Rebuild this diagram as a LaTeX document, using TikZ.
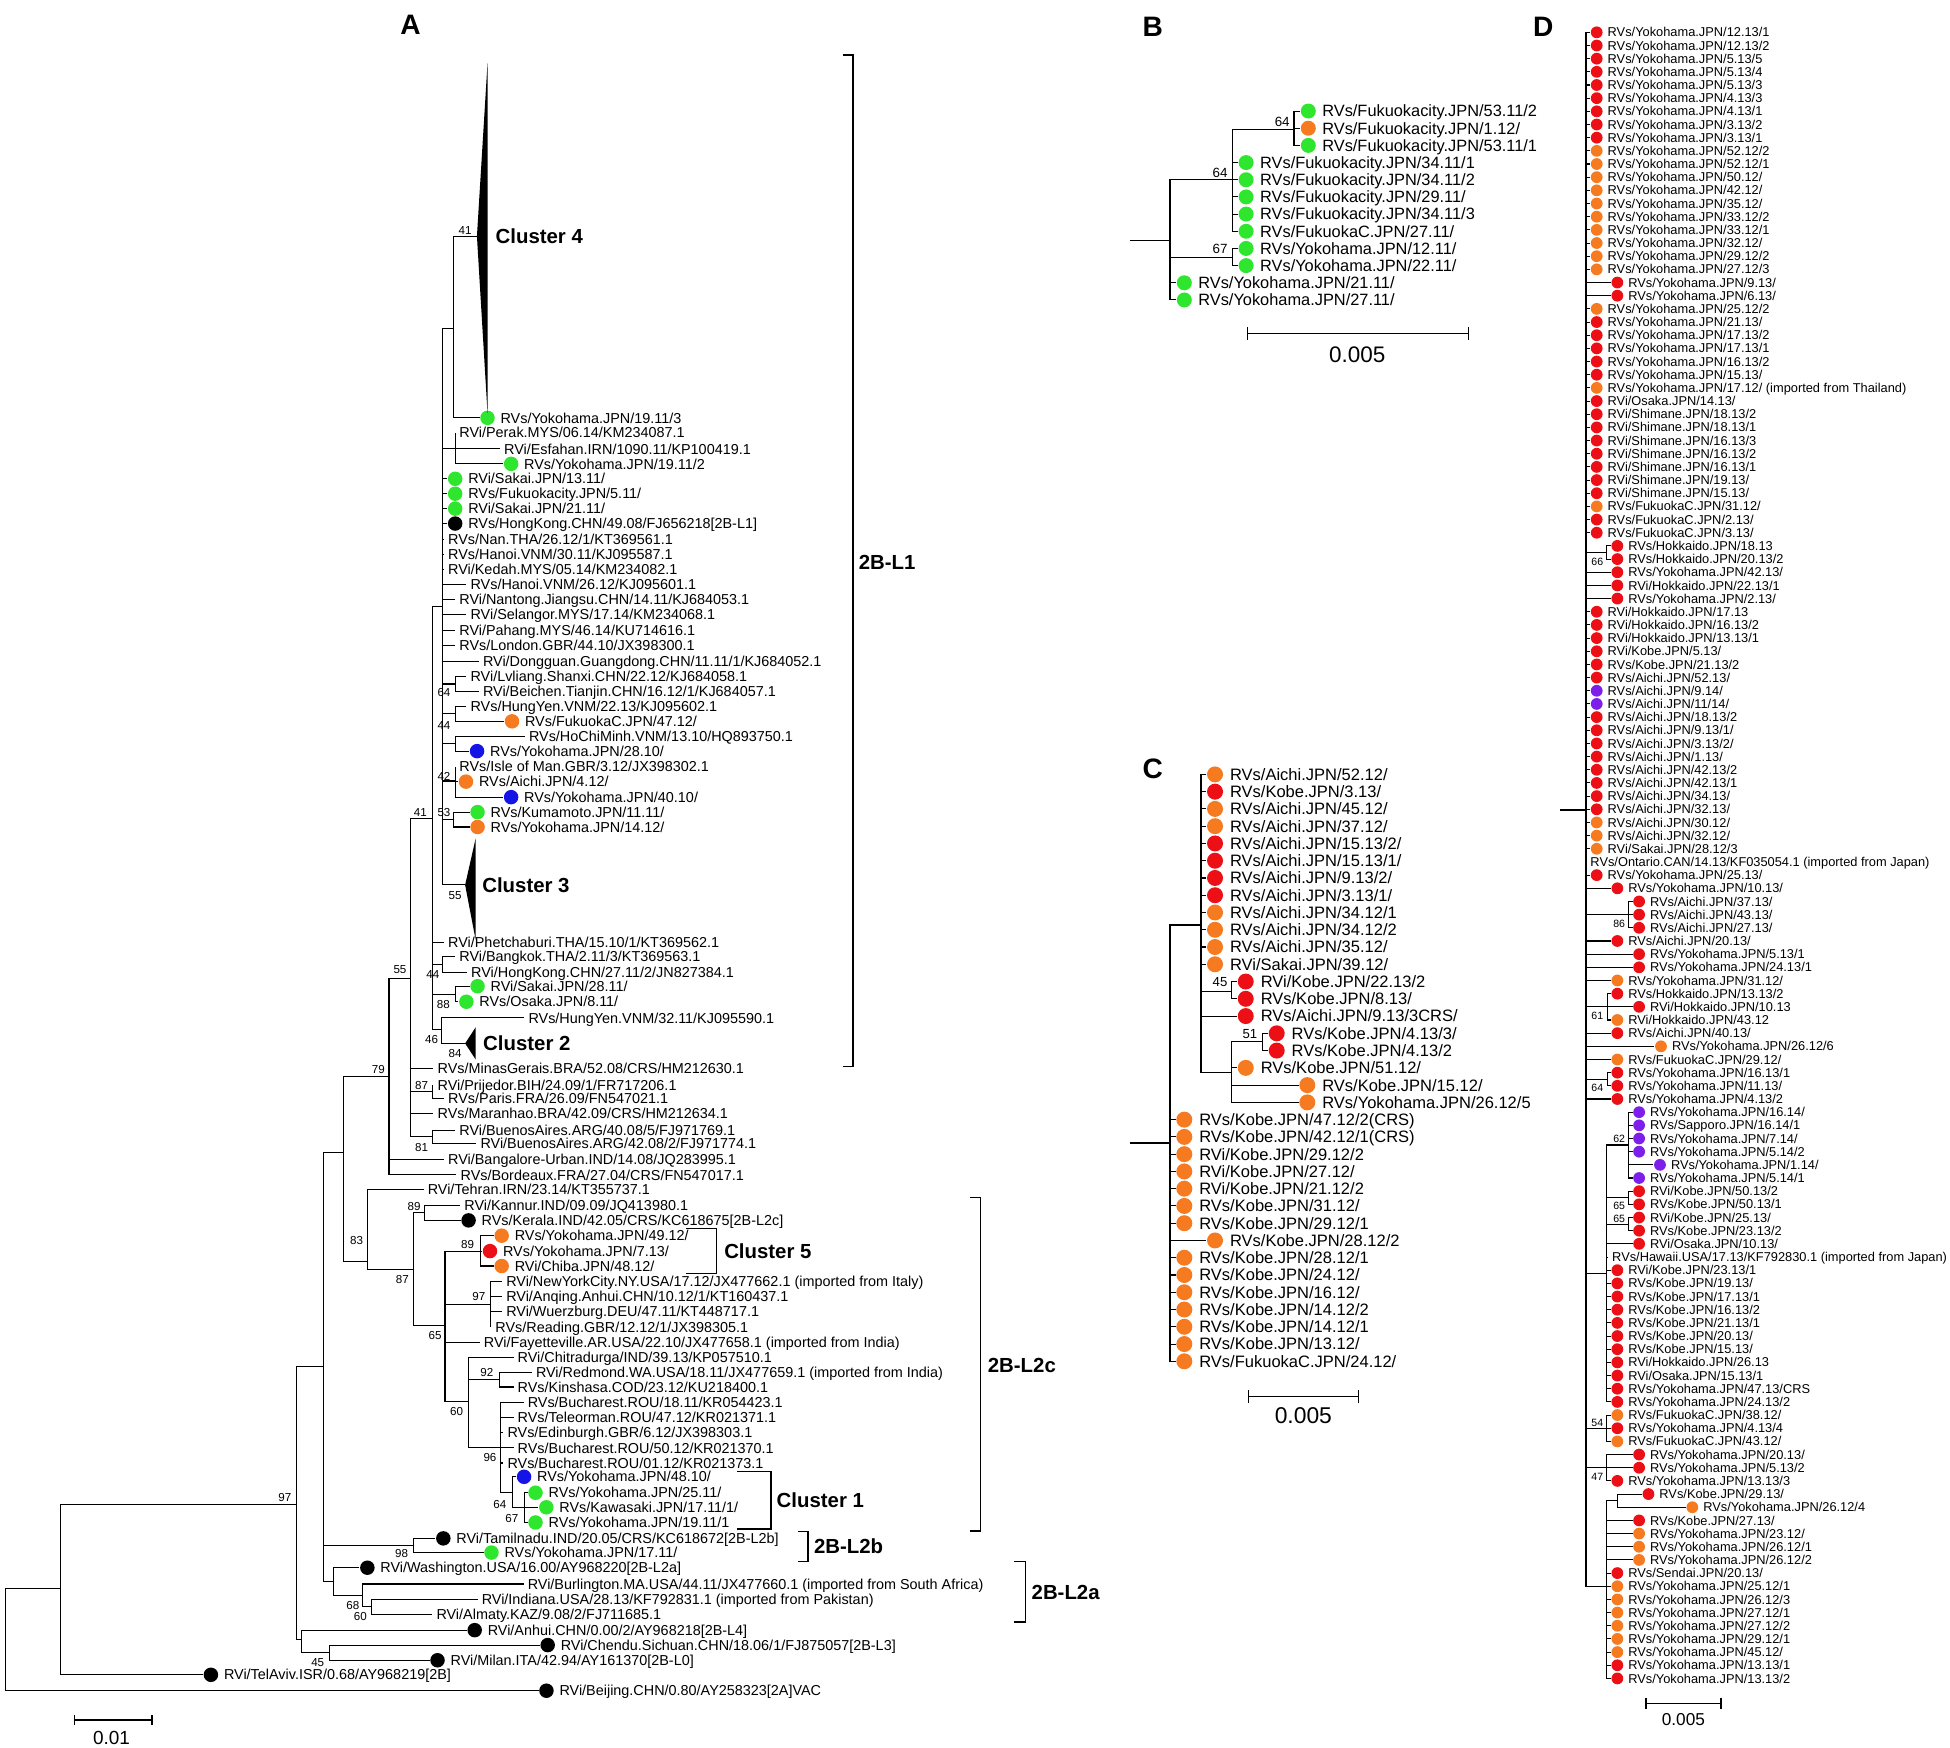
\documentclass[tikz,border=0pt]{standalone}
\usepackage{fontspec}
\setmainfont{Liberation Sans}
\usetikzlibrary{positioning}

\definecolor{ptred}{RGB}{236,16,22}
\definecolor{ptorange}{RGB}{245,122,32}
\definecolor{ptgreen}{RGB}{46,230,46}
\definecolor{ptblue}{RGB}{20,20,230}
\definecolor{ptpurple}{RGB}{125,30,235}

\tikzset{
  br/.style={line width=0.3pt},
  brk/.style={line width=0.4pt},
  dotA/.style={circle, inner sep=0pt, minimum size=1.45mm},
  dotB/.style={circle, inner sep=0pt, minimum size=1.5mm},
  dotC/.style={circle, inner sep=0pt, minimum size=1.6mm},
  dotD/.style={circle, inner sep=0pt, minimum size=1.18mm},
  lblA/.style={anchor=west, inner sep=0pt, font=\fontsize{4.1}{5}\selectfont, text height=2.94pt, text depth=0pt},
  lblB/.style={anchor=west, inner sep=0pt, font=\fontsize{4.66}{5.5}\selectfont, text height=3.34pt, text depth=0pt},
  lblC/.style={anchor=west, inner sep=0pt, font=\fontsize{4.7}{5.5}\selectfont, text height=3.37pt, text depth=0pt},
  lblD/.style={anchor=west, inner sep=0pt, font=\fontsize{3.65}{4.5}\selectfont, text height=2.61pt, text depth=0pt},
  bsA/.style={inner sep=0pt, font=\fontsize{3.3}{4}\selectfont},
  bsB/.style={inner sep=0pt, font=\fontsize{3.8}{4.5}\selectfont},
  bsC/.style={inner sep=0pt, font=\fontsize{3.75}{4.5}\selectfont},
  bsD/.style={inner sep=0pt, font=\fontsize{3.0}{3.6}\selectfont},
  grp/.style={anchor=west, inner sep=0pt, font=\bfseries\fontsize{5.8}{7}\selectfont, text height=4.15pt, text depth=0pt},
  panel/.style={inner sep=0pt, font=\bfseries\fontsize{8}{9}\selectfont},
}

% leaves: dot + label, or label only
\newcommand{\aleaf}[5]{\node[dotA, fill=#4] (#1) at (#2,#3) {}; \node[lblA, xshift=1.24mm] (#1-t) at (#1) {#5};}
\newcommand{\atxt}[4]{\node[lblA, inner xsep=1pt] (#1) at (#2-3,#3) {#4};}
\newcommand{\bleaf}[5]{\node[dotB, fill=#4] (#1) at (#2,{89.3+13.81*(#3-1)}) {}; \node[lblB, xshift=1.33mm] (#1-t) at (#1) {#5};}
\newcommand{\cleaf}[5]{\node[dotC, fill=#4] (#1) at (#2,{622.7+13.88*(#3-1)}) {}; \node[lblC, xshift=1.43mm] (#1-t) at (#1) {#5};}
\newcommand{\dleaf}[5]{\node[dotD, fill=#4] (#1) at (#2,{26+10.589*(#3-1)}) {}; \node[lblD, xshift=1.03mm] (#1-t) at (#1) {#5};}
\newcommand{\dtxt}[4]{\node[lblD, inner xsep=1pt] (#1) at (#2-3,{26+10.589*(#3-1)}) {#4};}

\begin{document}
\begin{tikzpicture}[x=0.1244mm, y=-0.1244mm]
\useasboundingbox (0,0) rectangle (1568,1405);

% Panel letters
\node[panel] (pA) at (330,20) {A};
\node[panel] (pB) at (927,21.5) {B};
\node[panel] (pC) at (927,618) {C};
\node[panel] (pD) at (1241,21.5) {D};

%%%%%%%%%%%%%%%% Panel A %%%%%%%%%%%%%%%%
% Leaves of panel A
\coordinate (tri4) at (383.5,190);
\aleaf{a01}{392}{336}{ptgreen}{RVs/Yokohama.JPN/19.11/3}
\atxt{a02}{369}{348}{RVi/Perak.MYS/06.14/KM234087.1}
\atxt{a03}{405}{361}{RVi/Esfahan.IRN/1090.11/KP100419.1}
\aleaf{a04}{411}{373}{ptgreen}{RVs/Yokohama.JPN/19.11/2}
\aleaf{a05}{366}{385}{ptgreen}{RVi/Sakai.JPN/13.11/}
\aleaf{a06}{366}{397}{ptgreen}{RVs/Fukuokacity.JPN/5.11/}
\aleaf{a07}{366}{409}{ptgreen}{RVi/Sakai.JPN/21.11/}
\aleaf{a08}{366}{421}{black}{RVs/HongKong.CHN/49.08/FJ656218[2B-L1]}
\atxt{a09}{360}{434}{RVs/Nan.THA/26.12/1/KT369561.1}
\atxt{a10}{360}{446}{RVs/Hanoi.VNM/30.11/KJ095587.1}
\atxt{a11}{360}{458}{RVi/Kedah.MYS/05.14/KM234082.1}
\atxt{a12}{378}{470}{RVs/Hanoi.VNM/26.12/KJ095601.1}
\atxt{a13}{369}{482}{RVi/Nantong.Jiangsu.CHN/14.11/KJ684053.1}
\atxt{a14}{378}{494}{RVi/Selangor.MYS/17.14/KM234068.1}
\atxt{a15}{369}{507}{RVi/Pahang.MYS/46.14/KU714616.1}
\atxt{a16}{369}{519}{RVs/London.GBR/44.10/JX398300.1}
\atxt{a17}{388}{532}{RVi/Dongguan.Guangdong.CHN/11.11/1/KJ684052.1}
\atxt{a18}{378}{544}{RVi/Lvliang.Shanxi.CHN/22.12/KJ684058.1}
\atxt{a19}{388}{556}{RVi/Beichen.Tianjin.CHN/16.12/1/KJ684057.1}
\atxt{a20}{378}{568}{RVs/HungYen.VNM/22.13/KJ095602.1}
\aleaf{a21}{411.7}{580}{ptorange}{RVs/FukuokaC.JPN/47.12/}
\atxt{a22}{425}{592}{RVs/HoChiMinh.VNM/13.10/HQ893750.1}
\aleaf{a23}{383.6}{604}{ptblue}{RVs/Yokohama.JPN/28.10/}
\atxt{a24}{369}{616.5}{RVs/Isle of Man.GBR/3.12/JX398302.1}
\aleaf{a25}{374.7}{628.5}{ptorange}{RVs/Aichi.JPN/4.12/}
\aleaf{a26}{411}{641}{ptblue}{RVs/Yokohama.JPN/40.10/}
\aleaf{a27}{384}{653}{ptgreen}{RVs/Kumamoto.JPN/11.11/}
\aleaf{a28}{384}{665}{ptorange}{RVs/Yokohama.JPN/14.12/}
\coordinate (tri3) at (374,711.6);
\atxt{a29}{360}{758}{RVi/Phetchaburi.THA/15.10/1/KT369562.1}
\atxt{a30}{369}{769}{RVi/Bangkok.THA/2.11/3/KT369563.1}
\atxt{a31}{378.5}{782}{RVi/HongKong.CHN/27.11/2/JN827384.1}
\aleaf{a32}{384}{793}{ptgreen}{RVi/Sakai.JPN/28.11/}
\aleaf{a33}{375}{805.5}{ptgreen}{RVs/Osaka.JPN/8.11/}
\atxt{a34}{424.6}{818.5}{RVs/HungYen.VNM/32.11/KJ095590.1}
\coordinate (tri2) at (374,839);
\atxt{a35}{351.5}{859}{RVs/MinasGerais.BRA/52.08/CRS/HM212630.1}
\atxt{a36}{351.5}{872.5}{RVi/Prijedor.BIH/24.09/1/FR717206.1}
\atxt{a37}{360}{883}{RVs/Paris.FRA/26.09/FN547021.1}
\atxt{a38}{351.5}{895.5}{RVs/Maranhao.BRA/42.09/CRS/HM212634.1}
\atxt{a39}{369}{908.7}{RVi/BuenosAires.ARG/40.08/5/FJ971769.1}
\atxt{a40}{386}{919.3}{RVi/BuenosAires.ARG/42.08/2/FJ971774.1}
\atxt{a41}{360}{932.4}{RVi/Bangalore-Urban.IND/14.08/JQ283995.1}
\atxt{a42}{370}{944.7}{RVs/Bordeaux.FRA/27.04/CRS/FN547017.1}
\atxt{a43}{343.6}{956.3}{RVi/Tehran.IRN/23.14/KT355737.1}
\atxt{a44}{373}{969}{RVi/Kannur.IND/09.09/JQ413980.1}
\aleaf{a45}{376.8}{981.3}{black}{RVs/Kerala.IND/42.05/CRS/KC618675[2B-L2c]}
\aleaf{a46}{403.4}{993.6}{ptorange}{RVs/Yokohama.JPN/49.12/}
\aleaf{a47}{394}{1006}{ptred}{RVs/Yokohama.JPN/7.13/}
\aleaf{a48}{403.4}{1018}{ptorange}{RVi/Chiba.JPN/48.12/}
\atxt{a49}{406.7}{1030.4}{RVi/NewYorkCity.NY.USA/17.12/JX477662.1 (imported from Italy)}
\atxt{a50}{406.7}{1042.6}{RVi/Anqing.Anhui.CHN/10.12/1/KT160437.1}
\atxt{a51}{406.7}{1054.8}{RVi/Wuerzburg.DEU/47.11/KT448717.1}
\atxt{a52}{398}{1067}{RVs/Reading.GBR/12.12/1/JX398305.1}
\atxt{a53}{388.7}{1079.4}{RVi/Fayetteville.AR.USA/22.10/JX477658.1 (imported from India)}
\atxt{a54}{415.9}{1091.6}{RVi/Chitradurga/IND/39.13/KP057510.1}
\atxt{a55}{430.6}{1103.3}{RVi/Redmond.WA.USA/18.11/JX477659.1 (imported from India)}
\atxt{a56}{415.9}{1115.3}{RVs/Kinshasa.COD/23.12/KU218400.1}
\atxt{a57}{424}{1127.4}{RVs/Bucharest.ROU/18.11/KR054423.1}
\atxt{a58}{415.9}{1139.7}{RVs/Teleorman.ROU/47.12/KR021371.1}
\atxt{a59}{407.7}{1152}{RVs/Edinburgh.GBR/6.12/JX398303.1}
\atxt{a60}{415.9}{1164.2}{RVs/Bucharest.ROU/50.12/KR021370.1}
\atxt{a61}{407.7}{1176.4}{RVs/Bucharest.ROU/01.12/KR021373.1}
\aleaf{a62}{421.4}{1187.5}{ptblue}{RVs/Yokohama.JPN/48.10/}
\aleaf{a63}{430.6}{1200.3}{ptgreen}{RVs/Yokohama.JPN/25.11/}
\aleaf{a64}{439.3}{1212}{ptgreen}{RVs/Kawasaki.JPN/17.11/1/}
\aleaf{a65}{430.6}{1224.2}{ptgreen}{RVs/Yokohama.JPN/19.11/1}
\aleaf{a66}{356.5}{1237}{black}{RVi/Tamilnadu.IND/20.05/CRS/KC618672[2B-L2b]}
\aleaf{a67}{395.2}{1248.4}{ptgreen}{RVs/Yokohama.JPN/17.11/}
\aleaf{a68}{295.4}{1260.6}{black}{RVi/Washington.USA/16.00/AY968220[2B-L2a]}
\atxt{a69}{424}{1273.7}{RVi/Burlington.MA.USA/44.11/JX477660.1 (imported from South Africa)}
\atxt{a70}{387}{1286}{RVi/Indiana.USA/28.13/KF792831.1 (imported from Pakistan)}
\atxt{a71}{350.6}{1298.3}{RVi/Almaty.KAZ/9.08/2/FJ711685.1}
\aleaf{a72}{381.7}{1310.8}{black}{RVi/Anhui.CHN/0.00/2/AY968218[2B-L4]}
\aleaf{a73}{440.4}{1322.8}{black}{RVi/Chendu.Sichuan.CHN/18.06/1/FJ875057[2B-L3]}
\aleaf{a74}{351.8}{1335}{black}{RVi/Milan.ITA/42.94/AY161370[2B-L0]}
\aleaf{a75}{169.6}{1346.7}{black}{RVi/TelAviv.ISR/0.68/AY968219[2B]}
\aleaf{a76}{439.4}{1359.5}{black}{RVi/Beijing.CHN/0.80/AY258323[2A]VAC}

% Internal nodes of panel A
\coordinate (r0) at (4.4,1277);
\coordinate (n1) at (49,1277);
\coordinate (n97) at (238.3,1209.7);
\coordinate (nU) at (260,1099);
\coordinate (n79p) at (276,926.8);
\coordinate (n79) at (312.8,865.6);
\coordinate (n55) at (330,786.5);
\coordinate (n41) at (348,658);
\coordinate (npoly) at (356,488);
\coordinate (n41t) at (365,264);
\coordinate (nPE) at (366,361);
\coordinate (nLB) at (366,550);
\coordinate (nHF) at (366,574);
\coordinate (nHY) at (366,598);
\coordinate (nIA) at (366,628);
\coordinate (nKY) at (364.5,659);
\coordinate (nBK) at (356,775.6);
\coordinate (nSO) at (366,800);
\coordinate (n46) at (355,828);
\coordinate (n87a) at (347.6,878);
\coordinate (n81) at (347.6,914);
\coordinate (n83) at (295.6,1014.2);
\coordinate (n87) at (332.4,1020.6);
\coordinate (nKK) at (341.7,975);
\coordinate (n65) at (357.8,1065.8);
\coordinate (n89) at (386,1006);
\coordinate (n97b) at (394.2,1048.7);
\coordinate (n60) at (376.6,1127.2);
\coordinate (n92) at (401.3,1109.3);
\coordinate (n96) at (402.3,1163.6);
\coordinate (n64c) at (412.1,1200);
\coordinate (n67) at (421.4,1212);
\coordinate (n98) at (332.4,1243);
\coordinate (nW) at (268,1271.7);
\coordinate (n68) at (291.6,1282.8);
\coordinate (n60b) at (298.9,1292);
\coordinate (n45p) at (242.6,1318);
\coordinate (n45) at (264.8,1329);

% Collapsed clusters
\fill (tri4) -- (392,51) -- (392,332) -- cycle;
\fill (tri3) -- (382.5,674) -- (382.5,756) -- cycle;
\fill (tri2) -- (382.5,826) -- (382.5,852) -- cycle;

% Branches of panel A
\draw[br] (r0) |- (n1) (r0) |- (a76);
\draw[br] (n1) |- (n97) (n1) |- (a75);
\draw[br] (n97) |- (nU) (n97) |- (n45p);
\draw[br] (nU) |- (n79p) (nU) |- (n98) (nU) |- (nW);
\draw[br] (n79p) |- (n79) (n79p) |- (n83);
\draw[br] (n79) |- (n55) (n79) |- (a41) (n79) |- (a42);
\draw[br] (n55) |- (n41) (n55) |- (a35) (n55) |- (n87a) (n55) |- (a38) (n55) |- (n81);
\draw[br] (n87a) |- (a36) (n87a) |- (a37);
\draw[br] (n81) |- (a39) (n81) |- (a40);
\draw[br] (n41) |- (npoly) (n41) |- (a29) (n41) |- (nBK) (n41) |- (nSO) (n41) |- (n46);
\foreach \c in {n41t,nPE,a05,a06,a07,a08,a09,a10,a11,a12,a13,a14,a15,a16,a17,nLB,nHF,nHY,nIA,nKY,tri3}
  \draw[br] (npoly) |- (\c);
\draw[br] (n41t) |- (tri4) (n41t) |- (a01);
\draw[br] (nPE) |- (a02) (nPE) |- (a03) (nPE) |- (a04);
\draw[br] (nLB) |- (a18) (nLB) |- (a19);
\draw[br] (nHF) |- (a20) (nHF) |- (a21);
\draw[br] (nHY) |- (a22) (nHY) |- (a23);
\draw[br] (nIA) |- (a24) (nIA) |- (a25) (nIA) |- (a26);
\draw[br] (nKY) |- (a27) (nKY) |- (a28);
\draw[br] (nBK) |- (a30) (nBK) |- (a31);
\draw[br] (nSO) |- (a32) (nSO) |- (a33);
\draw[br] (n46) |- (a34) (n46) |- (tri2);
\draw[br] (n83) |- (a43) (n83) |- (n87);
\draw[br] (n87) |- (nKK) (n87) |- (n65);
\draw[br] (nKK) |- (a44) (nKK) |- (a45);
\draw[br] (n65) |- (n89) (n65) |- (n97b) (n65) |- (a53) (n65) |- (n60);
\draw[br] (n89) |- (a46) (n89) |- (a47) (n89) |- (a48);
\foreach \c in {a49,a50,a51,a52} \draw[br] (n97b) |- (\c);
\draw[br] (n60) |- (a54) (n60) |- (n92) (n60) |- (n96);
\draw[br] (n92) |- (a55) (n92) |- (a56);
\foreach \c in {a57,a58,a59,a60,a61,n64c} \draw[br] (n96) |- (\c);
\draw[br] (n64c) |- (a62) (n64c) |- (n67);
\draw[br] (n67) |- (a63) (n67) |- (a64) (n67) |- (a65);
\draw[br] (n98) |- (a66) (n98) |- (a67);
\draw[br] (nW) |- (a68) (nW) |- (n68);
\draw[br] (n68) |- (a69) (n68) |- (n60b);
\draw[br] (n60b) |- (a70) (n60b) |- (a71);
\draw[br] (n45p) |- (a72) (n45p) |- (n45);
\draw[br] (n45) |- (a73) (n45) |- (a74);

% Bootstrap values of panel A
\node[bsA] (sa01) at (374,185) {41};
\node[bsA] (sa02) at (357,557) {64};
\node[bsA] (sa03) at (357,583) {44};
\node[bsA] (sa04) at (357,624) {42};
\node[bsA] (sa05) at (357,653) {53};
\node[bsA] (sa06) at (338,653) {41};
\node[bsA] (sa07) at (366,720) {55};
\node[bsA] (sa08) at (321.6,780) {55};
\node[bsA] (sa09) at (348,784) {44};
\node[bsA] (sa10) at (356.5,808) {88};
\node[bsA] (sa11) at (347,836) {46};
\node[bsA] (sa12) at (366,847.5) {84};
\node[bsA] (sa13) at (304.2,860) {79};
\node[bsA] (sa14) at (339,872.5) {87};
\node[bsA] (sa15) at (339,923) {81};
\node[bsA] (sa16) at (333,970) {89};
\node[bsA] (sa17) at (286.8,997.7) {83};
\node[bsA] (sa18) at (376,1000.6) {89};
\node[bsA] (sa19) at (323.5,1029) {87};
\node[bsA] (sa20) at (385,1042.6) {97};
\node[bsA] (sa21) at (349.8,1074) {65};
\node[bsA] (sa22) at (391.5,1103.3) {92};
\node[bsA] (sa23) at (367.2,1135) {60};
\node[bsA] (sa24) at (394,1172) {96};
\node[bsA] (sa25) at (402,1209.6) {64};
\node[bsA] (sa26) at (411.6,1221) {67};
\node[bsA] (sa27) at (229,1204) {97};
\node[bsA] (sa28) at (323,1249.4) {98};
\node[bsA] (sa29) at (283.7,1290.6) {68};
\node[bsA] (sa30) at (289.8,1299.8) {60};
\node[bsA] (sa31) at (255.5,1336.6) {45};

% Cluster names and lineage brackets
\node[grp] (cl4) at (398,190) {Cluster 4};
\node[grp] (cl3) at (387.3,711.6) {Cluster 3};
\node[grp] (cl2) at (388,839) {Cluster 2};
\draw[brk] (552,988) -- (576,988) -- (576,1024) -- (552,1024);
\node[grp] (cl5) at (581.8,1006) {Cluster 5};
\draw[brk] (592.6,1183) -- (619.8,1183) -- (619.8,1229.5) -- (592.6,1229.5);
\node[grp] (cl1) at (624,1206) {Cluster 1};
\draw[brk] (678,44.2) -- (686,44.2) -- (686,857.7) -- (678,857.7);
\node[grp] (gL1) at (690,452) {2B-L1};
\draw[brk] (780,963) -- (788.4,963) -- (788.4,1231) -- (780,1231);
\node[grp] (gL2c) at (793.8,1097.6) {2B-L2c};
\draw[brk] (641.5,1231.6) -- (649.7,1231.6) -- (649.7,1255.5) -- (641.5,1255.5);
\node[grp] (gL2b) at (654,1243) {2B-L2b};
\draw[brk] (815.5,1255.5) -- (824.8,1255.5) -- (824.8,1304.4) -- (815.5,1304.4);
\node[grp] (gL2a) at (829,1280) {2B-L2a};

% Scale bar of panel A
\draw[brk] (59.8,1379) -- (59.8,1387) (59.8,1383) -- (122.3,1383) (122.3,1379) -- (122.3,1387);
\node[inner sep=0pt, font=\fontsize{5.4}{6}\selectfont] (sclA) at (89.7,1397.6) {0.01};

%%%%%%%%%%%%%%%% Panel B %%%%%%%%%%%%%%%%
\bleaf{b01}{1052}{1}{ptgreen}{RVs/Fukuokacity.JPN/53.11/2}
\bleaf{b02}{1052}{2}{ptorange}{RVs/Fukuokacity.JPN/1.12/}
\bleaf{b03}{1052}{3}{ptgreen}{RVs/Fukuokacity.JPN/53.11/1}
\bleaf{b04}{1002}{4}{ptgreen}{RVs/Fukuokacity.JPN/34.11/1}
\bleaf{b05}{1002}{5}{ptgreen}{RVs/Fukuokacity.JPN/34.11/2}
\bleaf{b06}{1002}{6}{ptgreen}{RVs/Fukuokacity.JPN/29.11/}
\bleaf{b07}{1002}{7}{ptgreen}{RVs/Fukuokacity.JPN/34.11/3}
\bleaf{b08}{1002}{8}{ptgreen}{RVs/FukuokaC.JPN/27.11/}
\bleaf{b09}{1002}{9}{ptgreen}{RVs/Yokohama.JPN/12.11/}
\bleaf{b10}{1002}{10}{ptgreen}{RVs/Yokohama.JPN/22.11/}
\bleaf{b11}{952.3}{11}{ptgreen}{RVs/Yokohama.JPN/21.11/}
\bleaf{b12}{952.3}{12}{ptgreen}{RVs/Yokohama.JPN/27.11/}

\coordinate (bst) at (908.6,193.5);
\coordinate (bN0) at (940.8,193.5);
\coordinate (bn64a) at (990.9,144.7);
\coordinate (bn64b) at (1040.5,104);
\coordinate (bn67) at (990.9,207.2);

\draw[br] (bst) -- (bN0);
\draw[br] (bN0) |- (bn64a) (bN0) |- (bn67) (bN0) |- (b11) (bN0) |- (b12);
\foreach \c in {bn64b,b04,b05,b06,b07,b08} \draw[br] (bn64a) |- (\c);
\draw[br] (bn64b) |- (b01) (bn64b) |- (b02) (bn64b) |- (b03);
\draw[br] (bn67) |- (b09) (bn67) |- (b10);

\node[bsB] (sb01) at (1031,97.8) {64};
\node[bsB] (sb02) at (981,139.4) {64};
\node[bsB] (sb03) at (981,200) {67};

\draw[brk] (1003.3,263) -- (1003.3,273) (1003.3,268) -- (1180.7,268) (1180.7,263) -- (1180.7,273);
\node[inner sep=0pt, font=\fontsize{6.4}{7}\selectfont] (sclB) at (1091.4,285.5) {0.005};

%%%%%%%%%%%%%%%% Panel C %%%%%%%%%%%%%%%%
\cleaf{c01}{977}{1}{ptorange}{RVs/Aichi.JPN/52.12/}
\cleaf{c02}{977}{2}{ptred}{RVs/Kobe.JPN/3.13/}
\cleaf{c03}{977}{3}{ptorange}{RVs/Aichi.JPN/45.12/}
\cleaf{c04}{977}{4}{ptorange}{RVs/Aichi.JPN/37.12/}
\cleaf{c05}{977}{5}{ptred}{RVs/Aichi.JPN/15.13/2/}
\cleaf{c06}{977}{6}{ptred}{RVs/Aichi.JPN/15.13/1/}
\cleaf{c07}{977}{7}{ptred}{RVs/Aichi.JPN/9.13/2/}
\cleaf{c08}{977}{8}{ptred}{RVs/Aichi.JPN/3.13/1/}
\cleaf{c09}{977}{9}{ptorange}{RVs/Aichi.JPN/34.12/1}
\cleaf{c10}{977}{10}{ptorange}{RVs/Aichi.JPN/34.12/2}
\cleaf{c11}{977}{11}{ptorange}{RVs/Aichi.JPN/35.12/}
\cleaf{c12}{977}{12}{ptorange}{RVi/Sakai.JPN/39.12/}
\cleaf{c13}{1001.7}{13}{ptred}{RVi/Kobe.JPN/22.13/2}
\cleaf{c14}{1001.7}{14}{ptred}{RVs/Kobe.JPN/8.13/}
\cleaf{c15}{1001.7}{15}{ptred}{RVs/Aichi.JPN/9.13/3CRS/}
\cleaf{c16}{1026.6}{16}{ptred}{RVs/Kobe.JPN/4.13/3/}
\cleaf{c17}{1026.6}{17}{ptred}{RVs/Kobe.JPN/4.13/2}
\cleaf{c18}{1001.7}{18}{ptorange}{RVs/Kobe.JPN/51.12/}
\cleaf{c19}{1051.2}{19}{ptorange}{RVs/Kobe.JPN/15.12/}
\cleaf{c20}{1051.2}{20}{ptorange}{RVs/Yokohama.JPN/26.12/5}
\cleaf{c21}{952.3}{21}{ptorange}{RVs/Kobe.JPN/47.12/2(CRS)}
\cleaf{c22}{952.3}{22}{ptorange}{RVs/Kobe.JPN/42.12/1(CRS)}
\cleaf{c23}{952.3}{23}{ptorange}{RVi/Kobe.JPN/29.12/2}
\cleaf{c24}{952.3}{24}{ptorange}{RVi/Kobe.JPN/27.12/}
\cleaf{c25}{952.3}{25}{ptorange}{RVi/Kobe.JPN/21.12/2}
\cleaf{c26}{952.3}{26}{ptorange}{RVs/Kobe.JPN/31.12/}
\cleaf{c27}{952.3}{27}{ptorange}{RVs/Kobe.JPN/29.12/1}
\cleaf{c28}{977}{28}{ptorange}{RVs/Kobe.JPN/28.12/2}
\cleaf{c29}{952.3}{29}{ptorange}{RVs/Kobe.JPN/28.12/1}
\cleaf{c30}{952.3}{30}{ptorange}{RVs/Kobe.JPN/24.12/}
\cleaf{c31}{952.3}{31}{ptorange}{RVs/Kobe.JPN/16.12/}
\cleaf{c32}{952.3}{32}{ptorange}{RVs/Kobe.JPN/14.12/2}
\cleaf{c33}{952.3}{33}{ptorange}{RVs/Kobe.JPN/14.12/1}
\cleaf{c34}{952.3}{34}{ptorange}{RVs/Kobe.JPN/13.12/}
\cleaf{c35}{952.3}{35}{ptorange}{RVs/FukuokaC.JPN/24.12/}

\coordinate (cst) at (908.6,919.1);
\coordinate (cN0) at (940.8,919.1);
\coordinate (cN1) at (965.7,743.8);
\coordinate (cn45) at (990.4,797);
\coordinate (cnK) at (990.4,862.5);
\coordinate (cn51) at (1015.3,837.8);

\draw[br] (cst) -- (cN0);
\foreach \c in {cN1,c21,c22,c23,c24,c25,c26,c27,c28,c29,c30,c31,c32,c33,c34,c35} \draw[br] (cN0) |- (\c);
\foreach \c in {c01,c02,c03,c04,c05,c06,c07,c08,c09,c10,c11,c12,cn45,c15,cnK} \draw[br] (cN1) |- (\c);
\draw[br] (cn45) |- (c13) (cn45) |- (c14);
\draw[br] (cnK) |- (cn51) (cnK) |- (c18) (cnK) |- (c19) (cnK) |- (c20);
\draw[br] (cn51) |- (c16) (cn51) |- (c17);

\node[bsC] (sc01) at (981,789.7) {45};
\node[bsC] (sc02) at (1005,831.6) {51};

\draw[brk] (1003.8,1118) -- (1003.8,1128) (1003.8,1122.9) -- (1092.3,1122.9) (1092.3,1118) -- (1092.3,1128);
\node[inner sep=0pt, font=\fontsize{6.5}{7}\selectfont] (sclC) at (1048,1138.6) {0.005};

%%%%%%%%%%%%%%%% Panel D %%%%%%%%%%%%%%%%
\dleaf{d001}{1283.9}{1}{ptred}{RVs/Yokohama.JPN/12.13/1}
\dleaf{d002}{1283.9}{2}{ptred}{RVs/Yokohama.JPN/12.13/2}
\dleaf{d003}{1283.9}{3}{ptred}{RVs/Yokohama.JPN/5.13/5}
\dleaf{d004}{1283.9}{4}{ptred}{RVs/Yokohama.JPN/5.13/4}
\dleaf{d005}{1283.9}{5}{ptred}{RVs/Yokohama.JPN/5.13/3}
\dleaf{d006}{1283.9}{6}{ptred}{RVs/Yokohama.JPN/4.13/3}
\dleaf{d007}{1283.9}{7}{ptred}{RVs/Yokohama.JPN/4.13/1}
\dleaf{d008}{1283.9}{8}{ptred}{RVs/Yokohama.JPN/3.13/2}
\dleaf{d009}{1283.9}{9}{ptred}{RVs/Yokohama.JPN/3.13/1}
\dleaf{d010}{1283.9}{10}{ptorange}{RVs/Yokohama.JPN/52.12/2}
\dleaf{d011}{1283.9}{11}{ptorange}{RVs/Yokohama.JPN/52.12/1}
\dleaf{d012}{1283.9}{12}{ptorange}{RVs/Yokohama.JPN/50.12/}
\dleaf{d013}{1283.9}{13}{ptorange}{RVs/Yokohama.JPN/42.12/}
\dleaf{d014}{1283.9}{14}{ptorange}{RVs/Yokohama.JPN/35.12/}
\dleaf{d015}{1283.9}{15}{ptorange}{RVs/Yokohama.JPN/33.12/2}
\dleaf{d016}{1283.9}{16}{ptorange}{RVs/Yokohama.JPN/33.12/1}
\dleaf{d017}{1283.9}{17}{ptorange}{RVs/Yokohama.JPN/32.12/}
\dleaf{d018}{1283.9}{18}{ptorange}{RVs/Yokohama.JPN/29.12/2}
\dleaf{d019}{1283.9}{19}{ptorange}{RVs/Yokohama.JPN/27.12/3}
\dleaf{d020}{1300.5}{20}{ptred}{RVs/Yokohama.JPN/9.13/}
\dleaf{d021}{1300.5}{21}{ptred}{RVs/Yokohama.JPN/6.13/}
\dleaf{d022}{1283.9}{22}{ptorange}{RVs/Yokohama.JPN/25.12/2}
\dleaf{d023}{1283.9}{23}{ptred}{RVs/Yokohama.JPN/21.13/}
\dleaf{d024}{1283.9}{24}{ptred}{RVs/Yokohama.JPN/17.13/2}
\dleaf{d025}{1283.9}{25}{ptred}{RVs/Yokohama.JPN/17.13/1}
\dleaf{d026}{1283.9}{26}{ptred}{RVs/Yokohama.JPN/16.13/2}
\dleaf{d027}{1283.9}{27}{ptred}{RVs/Yokohama.JPN/15.13/}
\dleaf{d028}{1283.9}{28}{ptorange}{RVs/Yokohama.JPN/17.12/ (imported from Thailand)}
\dleaf{d029}{1283.9}{29}{ptred}{RVi/Osaka.JPN/14.13/}
\dleaf{d030}{1283.9}{30}{ptred}{RVi/Shimane.JPN/18.13/2}
\dleaf{d031}{1283.9}{31}{ptred}{RVi/Shimane.JPN/18.13/1}
\dleaf{d032}{1283.9}{32}{ptred}{RVi/Shimane.JPN/16.13/3}
\dleaf{d033}{1283.9}{33}{ptred}{RVi/Shimane.JPN/16.13/2}
\dleaf{d034}{1283.9}{34}{ptred}{RVi/Shimane.JPN/16.13/1}
\dleaf{d035}{1283.9}{35}{ptred}{RVi/Shimane.JPN/19.13/}
\dleaf{d036}{1283.9}{36}{ptred}{RVi/Shimane.JPN/15.13/}
\dleaf{d037}{1283.9}{37}{ptorange}{RVs/FukuokaC.JPN/31.12/}
\dleaf{d038}{1283.9}{38}{ptred}{RVs/FukuokaC.JPN/2.13/}
\dleaf{d039}{1283.9}{39}{ptred}{RVs/FukuokaC.JPN/3.13/}
\dleaf{d040}{1300.5}{40}{ptred}{RVs/Hokkaido.JPN/18.13}
\dleaf{d041}{1300.5}{41}{ptred}{RVs/Hokkaido.JPN/20.13/2}
\dleaf{d042}{1300.5}{42}{ptred}{RVs/Yokohama.JPN/42.13/}
\dleaf{d043}{1300.5}{43}{ptred}{RVi/Hokkaido.JPN/22.13/1}
\dleaf{d044}{1300.5}{44}{ptred}{RVs/Yokohama.JPN/2.13/}
\dleaf{d045}{1283.9}{45}{ptred}{RVi/Hokkaido.JPN/17.13}
\dleaf{d046}{1283.9}{46}{ptred}{RVi/Hokkaido.JPN/16.13/2}
\dleaf{d047}{1283.9}{47}{ptred}{RVi/Hokkaido.JPN/13.13/1}
\dleaf{d048}{1283.9}{48}{ptred}{RVi/Kobe.JPN/5.13/}
\dleaf{d049}{1283.9}{49}{ptred}{RVs/Kobe.JPN/21.13/2}
\dleaf{d050}{1283.9}{50}{ptred}{RVs/Aichi.JPN/52.13/}
\dleaf{d051}{1283.9}{51}{ptpurple}{RVs/Aichi.JPN/9.14/}
\dleaf{d052}{1283.9}{52}{ptpurple}{RVs/Aichi.JPN/11/14/}
\dleaf{d053}{1283.9}{53}{ptred}{RVs/Aichi.JPN/18.13/2}
\dleaf{d054}{1283.9}{54}{ptred}{RVs/Aichi.JPN/9.13/1/}
\dleaf{d055}{1283.9}{55}{ptred}{RVs/Aichi.JPN/3.13/2/}
\dleaf{d056}{1283.9}{56}{ptred}{RVs/Aichi.JPN/1.13/}
\dleaf{d057}{1283.9}{57}{ptred}{RVs/Aichi.JPN/42.13/2}
\dleaf{d058}{1283.9}{58}{ptred}{RVs/Aichi.JPN/42.13/1}
\dleaf{d059}{1283.9}{59}{ptred}{RVs/Aichi.JPN/34.13/}
\dleaf{d060}{1283.9}{60}{ptred}{RVs/Aichi.JPN/32.13/}
\dleaf{d061}{1283.9}{61}{ptorange}{RVs/Aichi.JPN/30.12/}
\dleaf{d062}{1283.9}{62}{ptorange}{RVs/Aichi.JPN/32.12/}
\dleaf{d063}{1283.9}{63}{ptorange}{RVi/Sakai.JPN/28.12/3}
\dtxt{d064}{1278.5}{64}{RVs/Ontario.CAN/14.13/KF035054.1 (imported from Japan)}
\dleaf{d065}{1283.9}{65}{ptred}{RVs/Yokohama.JPN/25.13/}
\dleaf{d066}{1300.5}{66}{ptred}{RVs/Yokohama.JPN/10.13/}
\dleaf{d067}{1318}{67}{ptred}{RVs/Aichi.JPN/37.13/}
\dleaf{d068}{1318}{68}{ptred}{RVs/Aichi.JPN/43.13/}
\dleaf{d069}{1318}{69}{ptred}{RVs/Aichi.JPN/27.13/}
\dleaf{d070}{1300.5}{70}{ptred}{RVs/Aichi.JPN/20.13/}
\dleaf{d071}{1318}{71}{ptred}{RVs/Yokohama.JPN/5.13/1}
\dleaf{d072}{1318}{72}{ptred}{RVs/Yokohama.JPN/24.13/1}
\dleaf{d073}{1300.5}{73}{ptorange}{RVs/Yokohama.JPN/31.12/}
\dleaf{d074}{1300.5}{74}{ptred}{RVs/Hokkaido.JPN/13.13/2}
\dleaf{d075}{1318}{75}{ptred}{RVi/Hokkaido.JPN/10.13}
\dleaf{d076}{1300.5}{76}{ptorange}{RVi/Hokkaido.JPN/43.12}
\dleaf{d077}{1300.5}{77}{ptred}{RVs/Aichi.JPN/40.13/}
\dleaf{d078}{1335.6}{78}{ptorange}{RVs/Yokohama.JPN/26.12/6}
\dleaf{d079}{1300.5}{79}{ptorange}{RVs/FukuokaC.JPN/29.12/}
\dleaf{d080}{1300.5}{80}{ptred}{RVs/Yokohama.JPN/16.13/1}
\dleaf{d081}{1300.5}{81}{ptred}{RVs/Yokohama.JPN/11.13/}
\dleaf{d082}{1300.5}{82}{ptred}{RVs/Yokohama.JPN/4.13/2}
\dleaf{d083}{1318}{83}{ptpurple}{RVs/Yokohama.JPN/16.14/}
\dleaf{d084}{1318}{84}{ptpurple}{RVs/Sapporo.JPN/16.14/1}
\dleaf{d085}{1318}{85}{ptpurple}{RVs/Yokohama.JPN/7.14/}
\dleaf{d086}{1318}{86}{ptpurple}{RVs/Yokohama.JPN/5.14/2}
\dleaf{d087}{1334.8}{87}{ptpurple}{RVs/Yokohama.JPN/1.14/}
\dleaf{d088}{1318}{88}{ptpurple}{RVs/Yokohama.JPN/5.14/1}
\dleaf{d089}{1318}{89}{ptred}{RVi/Kobe.JPN/50.13/2}
\dleaf{d090}{1318}{90}{ptred}{RVs/Kobe.JPN/50.13/1}
\dleaf{d091}{1318}{91}{ptred}{RVi/Kobe.JPN/25.13/}
\dleaf{d092}{1318}{92}{ptred}{RVs/Kobe.JPN/23.13/2}
\dleaf{d093}{1318}{93}{ptred}{RVi/Osaka.JPN/10.13/}
\dtxt{d094}{1296}{94}{RVs/Hawaii.USA/17.13/KF792830.1 (imported from Japan)}
\dleaf{d095}{1300.5}{95}{ptred}{RVi/Kobe.JPN/23.13/1}
\dleaf{d096}{1300.5}{96}{ptred}{RVs/Kobe.JPN/19.13/}
\dleaf{d097}{1300.5}{97}{ptred}{RVs/Kobe.JPN/17.13/1}
\dleaf{d098}{1300.5}{98}{ptred}{RVs/Kobe.JPN/16.13/2}
\dleaf{d099}{1300.5}{99}{ptred}{RVs/Kobe.JPN/21.13/1}
\dleaf{d100}{1300.5}{100}{ptred}{RVs/Kobe.JPN/20.13/}
\dleaf{d101}{1300.5}{101}{ptred}{RVs/Kobe.JPN/15.13/}
\dleaf{d102}{1300.5}{102}{ptred}{RVi/Hokkaido.JPN/26.13}
\dleaf{d103}{1300.5}{103}{ptred}{RVi/Osaka.JPN/15.13/1}
\dleaf{d104}{1300.5}{104}{ptred}{RVs/Yokohama.JPN/47.13/CRS}
\dleaf{d105}{1300.5}{105}{ptred}{RVs/Yokohama.JPN/24.13/2}
\dleaf{d106}{1300.5}{106}{ptorange}{RVs/FukuokaC.JPN/38.12/}
\dleaf{d107}{1300.5}{107}{ptred}{RVs/Yokohama.JPN/4.13/4}
\dleaf{d108}{1300.5}{108}{ptorange}{RVs/FukuokaC.JPN/43.12/}
\dleaf{d109}{1318}{109}{ptred}{RVs/Yokohama.JPN/20.13/}
\dleaf{d110}{1318}{110}{ptred}{RVs/Yokohama.JPN/5.13/2}
\dleaf{d111}{1300.5}{111}{ptred}{RVs/Yokohama.JPN/13.13/3}
\dleaf{d112}{1325.5}{112}{ptred}{RVs/Kobe.JPN/29.13/}
\dleaf{d113}{1360.8}{113}{ptorange}{RVs/Yokohama.JPN/26.12/4}
\dleaf{d114}{1318}{114}{ptred}{RVs/Kobe.JPN/27.13/}
\dleaf{d115}{1318}{115}{ptorange}{RVs/Yokohama.JPN/23.12/}
\dleaf{d116}{1318}{116}{ptorange}{RVs/Yokohama.JPN/26.12/1}
\dleaf{d117}{1318}{117}{ptorange}{RVs/Yokohama.JPN/26.12/2}
\dleaf{d118}{1300.5}{118}{ptred}{RVs/Sendai.JPN/20.13/}
\dleaf{d119}{1300.5}{119}{ptorange}{RVs/Yokohama.JPN/25.12/1}
\dleaf{d120}{1300.5}{120}{ptorange}{RVs/Yokohama.JPN/26.12/3}
\dleaf{d121}{1300.5}{121}{ptorange}{RVs/Yokohama.JPN/27.12/1}
\dleaf{d122}{1300.5}{122}{ptorange}{RVs/Yokohama.JPN/27.12/2}
\dleaf{d123}{1300.5}{123}{ptorange}{RVs/Yokohama.JPN/29.12/1}
\dleaf{d124}{1300.5}{124}{ptorange}{RVs/Yokohama.JPN/45.12/}
\dleaf{d125}{1300.5}{125}{ptred}{RVs/Yokohama.JPN/13.13/1}
\dleaf{d126}{1300.5}{126}{ptred}{RVs/Yokohama.JPN/13.13/2}

% Internal nodes of panel D
\coordinate (dst) at (1254.4,651.3);
\coordinate (dV) at (1275.3,651.3);
\coordinate (dn66) at (1292,444.3);
\coordinate (dn86) at (1309.4,735.5);
\coordinate (dn61) at (1292.5,809.6);
\coordinate (dn64) at (1292.5,867.8);
\coordinate (dS1) at (1292,1023.9);
\coordinate (dn62) at (1309.4,920.7);
\coordinate (dn65a) at (1309.4,963.1);
\coordinate (dn65b) at (1309.4,984.3);
\coordinate (dn54) at (1292,1148.4);
\coordinate (dn47) at (1292,1180.2);
\coordinate (dS2) at (1292,1275.5);
\coordinate (dnK) at (1300.5,1206.7);

% Branches of panel D
\draw[br] (dst) -- (dV);
\foreach \c in {d001,d002,d003,d004,d005,d006,d007,d008,d009,d010,d011,d012,d013,d014,d015,d016,d017,d018,d019,d020,d021,d022,d023,d024,d025,d026,d027,d028,d029,d030,d031,d032,d033,d034,d035,d036,d037,d038,d039,dn66,d042,d043,d044,d045,d046,d047,d048,d049,d050,d051,d052,d053,d054,d055,d056,d057,d058,d059,d060,d061,d062,d063,d064,d065,d066,dn86,d070,d071,d072,d073,dn61,d077,d078,d079,dn64,d082,dS1,dn54,dn47,dS2}
  \draw[br] (dV) |- (\c);
\draw[br] (dn66) |- (d040) (dn66) |- (d041);
\foreach \c in {d067,d068,d069} \draw[br] (dn86) |- (\c);
\foreach \c in {d074,d075,d076} \draw[br] (dn61) |- (\c);
\draw[br] (dn64) |- (d080) (dn64) |- (d081);
\foreach \c in {dn62,dn65a,dn65b,d093,d094,d095,d096,d097,d098,d099,d100,d101,d102,d103,d104,d105} \draw[br] (dS1) |- (\c);
\foreach \c in {d083,d084,d085,d086,d087,d088} \draw[br] (dn62) |- (\c);
\draw[br] (dn65a) |- (d089) (dn65a) |- (d090);
\draw[br] (dn65b) |- (d091) (dn65b) |- (d092);
\foreach \c in {d106,d107,d108} \draw[br] (dn54) |- (\c);
\foreach \c in {d109,d110,d111} \draw[br] (dn47) |- (\c);
\foreach \c in {dnK,d114,d115,d116,d117,d118,d119,d120,d121,d122,d123,d124,d125,d126} \draw[br] (dS2) |- (\c);
\draw[br] (dnK) |- (d112) (dnK) |- (d113);

% Bootstrap values of panel D
\node[bsD] (sd01) at (1284.4,451.7) {66};
\node[bsD] (sd02) at (1302,742.5) {86};
\node[bsD] (sd03) at (1284.4,817) {61};
\node[bsD] (sd04) at (1284.4,875) {64};
\node[bsD] (sd05) at (1302,916.1) {62};
\node[bsD] (sd06) at (1302,969.8) {65};
\node[bsD] (sd07) at (1302,979.7) {65};
\node[bsD] (sd08) at (1284.4,1144) {54};
\node[bsD] (sd09) at (1284.4,1187.4) {47};

\draw[brk] (1323.6,1365.5) -- (1323.6,1374) (1323.6,1369.7) -- (1383.9,1369.7) (1383.9,1365.5) -- (1383.9,1374);
\node[inner sep=0pt, font=\fontsize{4.9}{6}\selectfont] (sclD) at (1353.6,1382.5) {0.005};

\end{tikzpicture}
\end{document}
